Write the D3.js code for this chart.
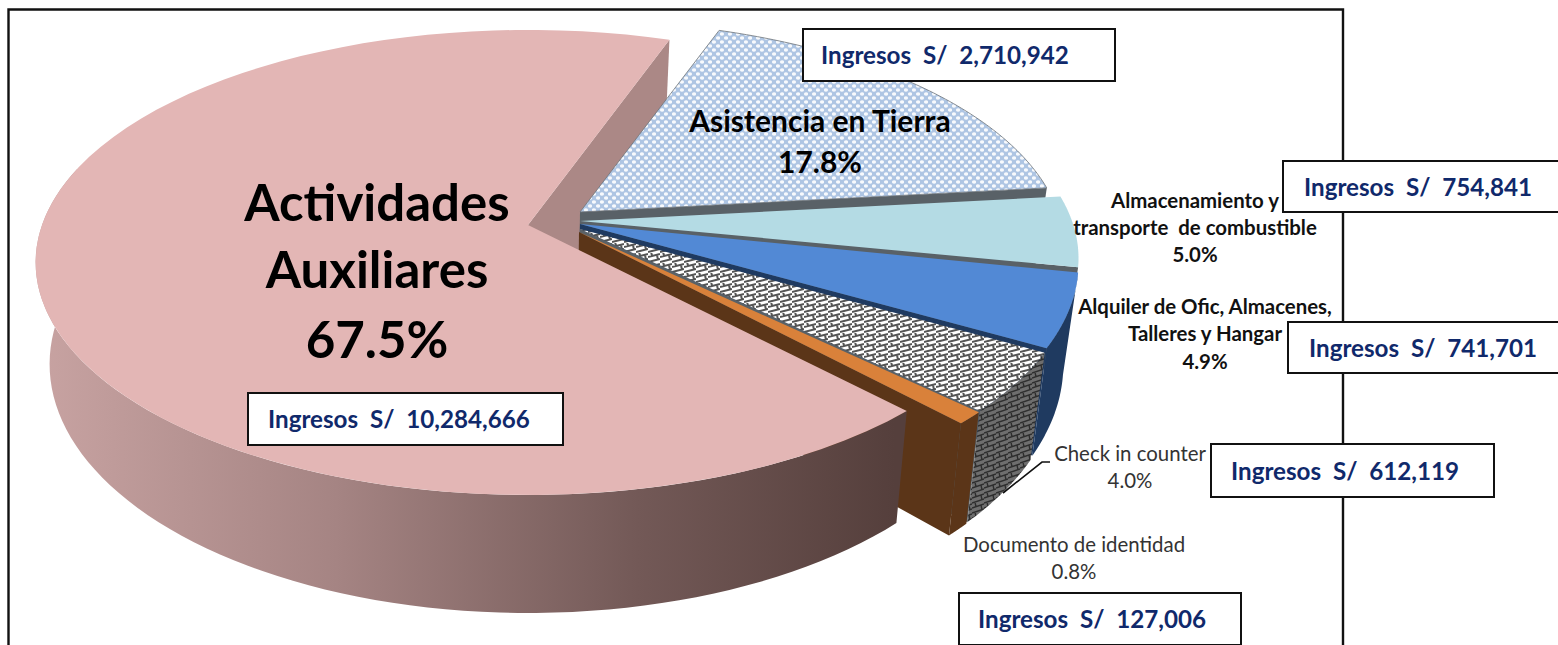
<!DOCTYPE html>
<html><head><meta charset="utf-8">
<script src="https://cdn.jsdelivr.net/npm/d3@7/dist/d3.min.js"></script>
<style>html,body{margin:0;background:#fff}svg{display:block}text{white-space:pre;font-family:Lato,"Open Sans",sans-serif}</style>
</head><body><svg id="c" width="1558" height="645"></svg>
<script>
const categories=["Actividades Auxiliares","Asistencia en Tierra","Almacenamiento y transporte de combustible","Alquiler de Ofic, Almacenes, Talleres y Hangar","Check in counter","Documento de identidad"];
const ingresos=[10284666,2710942,754841,741701,612119,127006];
const percents=["67.5%","17.8%","5.0%","4.9%","4.0%","0.8%"];
const ingresoLabels=["10,284,666","2,710,942","754,841","741,701","612,119","127,006"];

// layout, kept apart from the data
const startDeg=136.5;
const apex=[[528,225],[580,212],[580,221],[580,224],[580,229],[579,232]];
const radX=[486,478,492,492,490,490];
const radY=[226.5,222,225,236,235,233];
const fills=["#e3b6b5","url(#lattice)","#b4dbe4","#5289d5","url(#shingle)","#d9813a"];
const sideFill=["url(#pinkWall)","#596167","#596167","#1f3a60","url(#weave)","#5b3518"];
const p=0.161,T=99,vx=536,sb=0.972;

const svg=d3.select("#c"),defs=svg.append("defs");
function pat(id,w,h,draw){const g=defs.append("pattern").attr("id",id).attr("patternUnits","userSpaceOnUse").attr("width",w).attr("height",h);draw(g);}
pat("lattice",8,8,g=>{
  g.append("rect").attr("width",8).attr("height",8).attr("fill","#aec5e3");
  [[2,2],[6,6]].forEach(c=>g.append("ellipse").attr("cx",c[0]).attr("cy",c[1]).attr("rx",2.1).attr("ry",1.7).attr("fill","#f8fafd"));
});
pat("shingle",12,10,g=>{
  g.append("rect").attr("width",12).attr("height",10).attr("fill","#fff");
  g.append("path").attr("d","M0 2L12 -1M0 7L12 4M0 12L12 9M3 1.5L4 6M9 5L10 10M9 -5L10 0").attr("stroke","#555").attr("stroke-width",2).attr("fill","none");
});
pat("weave",12,10,g=>{
  g.append("rect").attr("width",12).attr("height",10).attr("fill","#6e6e6e");
  g.append("path").attr("d","M0 3L12 -1M0 8L12 4M0 13L12 9M3 2L4 7M9 5L10 10").attr("stroke","#2e2e2e").attr("stroke-width",1.4).attr("fill","none");
});
const lg=defs.append("linearGradient").attr("id","pinkWall").attr("gradientUnits","userSpaceOnUse").attr("x1",36).attr("x2",895).attr("y1",0).attr("y2",0);
[[0,"#c8a3a2"],[.35,"#a58483"],[.7,"#735957"],[1,"#553f3c"]].forEach(s=>lg.append("stop").attr("offset",s[0]).attr("stop-color",s[1]));

const pie=d3.pie().sort(null).startAngle(startDeg*Math.PI/180).endAngle((startDeg+360)*Math.PI/180);
const arcs=pie(ingresos);

function project(i,a){const X=Math.sin(a),Y=-Math.cos(a),w=1-p*Y;
  return [apex[i][0]+radX[i]*X/w,apex[i][1]+radY[i]*Y/w];}
function drop(pt,a){const Y=-Math.cos(a);
  return [vx+(pt[0]-vx)*sb,pt[1]+T/(1-p*Y)];}
const line=d3.line();
const steps=(a0,a1)=>d3.range(0,81).map(k=>a0+(a1-a0)*k/80);
function topPath(i){const d=arcs[i];return line([apex[i],...steps(d.startAngle,d.endAngle).map(a=>project(i,a))])+"Z";}
function wallPath(i,a0,a1){const s=steps(a0,a1);return line([...s.map(a=>project(i,a)),...s.slice().reverse().map(a=>drop(project(i,a),a))])+"Z";}
function facePath(i,a){const c=apex[i],o=project(i,a);return line([c,o,drop(o,a),[vx+(c[0]-vx)*sb,c[1]+T]])+"Z";}

const g=svg.append("g");
// frame
g.append("path").attr("d","M8.5 645V9.5H1343V645").attr("fill","none").attr("stroke","#111").attr("stroke-width",2.4);
// pink radial face seen behind the other slices
g.append("path").attr("d",facePath(0,arcs[0].endAngle)).attr("fill","#ab8886");
// other slices, back to front
[1,2,3,4,5].forEach(i=>{
  const d=arcs[i];
  g.append("path").attr("d",facePath(i,d.endAngle)).attr("fill",i==4?"#596167":sideFill[i]);
  if(i>=3) g.append("path").attr("d",wallPath(i,d.startAngle,d.endAngle)).attr("fill",sideFill[i]);
  g.append("path").attr("d",topPath(i)).attr("fill",fills[i]).attr("stroke",i==1?"#6d7378":"none").attr("stroke-width",i==1?.8:0);
});
// front slice
g.append("path").attr("d",wallPath(0,arcs[0].startAngle,285*Math.PI/180)).attr("fill",sideFill[0]);
g.append("path").attr("d",topPath(0)).attr("fill",fills[0]);

// leader line
g.append("path").attr("d","M1050 462H1042L1003 493").attr("fill","none").attr("stroke","#111").attr("stroke-width",1.6);

// text
function label(lines,x,weight,size,fill,dyList){lines.forEach((t,k)=>g.append("text").attr("x",x).attr("y",dyList[k]).attr("text-anchor","middle").attr("font-weight",weight).attr("font-size",size).attr("fill",fill).text(t));}
label(["Actividades","Auxiliares",percents[0]],377,700,51,"#000",[221,288,358]);
label(["Asistencia en Tierra",percents[1]],820,700,30,"#000",[132,173]);
label(["Almacenamiento y"],1195,700,20.4,"#111",[208]);
label(["transporte  de combustible",percents[2]],1195,700,20.4,"#111",[235,262]);
label(["Alquiler de Ofic, Almacenes,","Talleres y Hangar",percents[3]],1205,700,20.4,"#111",[314,341,369]);
label(["Check in counter",percents[4]],1130,400,20.4,"#333",[461,488]);
label(["Documento de identidad",percents[5]],1074,400,20.4,"#333",[552,579]);

// income boxes
const boxes=[[248,393,315,52],[803,29,312,52],[1283,161,290,51],[1288,322,290,51],[1211,444,283,53],[959,593,282,52]];
const textX=[268,821,1304,1309,1231,978];
boxes.forEach((b,i)=>{
  g.append("rect").attr("x",b[0]).attr("y",b[1]).attr("width",b[2]).attr("height",b[3]).attr("fill","#fff").attr("stroke","#111").attr("stroke-width",2);
  g.append("text").attr("x",textX[i]).attr("y",b[1]+b[3]/2+9).attr("font-weight",700).attr("font-size",24.2).attr("fill","#10296b").text("Ingresos  S/  "+ingresoLabels[i]);
});
</script></body></html>
